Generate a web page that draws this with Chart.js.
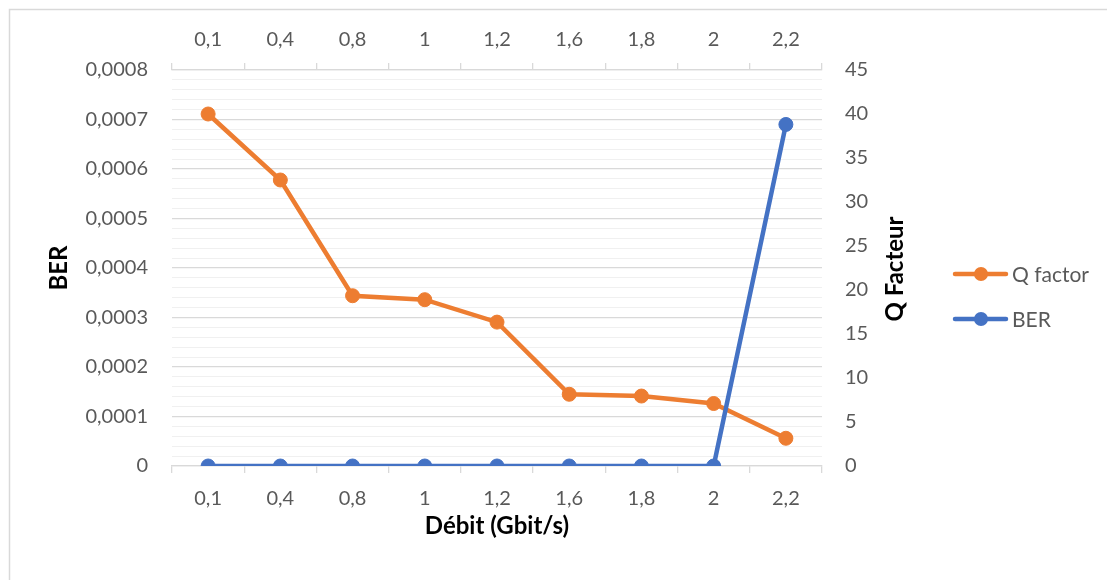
<!DOCTYPE html>
<html>
<head>
<meta charset="utf-8">
<script src="https://cdn.jsdelivr.net/npm/chart.js@4.4.1/dist/chart.umd.min.js"></script>
<style>
  html, body { margin: 0; padding: 0; background: #ffffff; overflow: hidden; }
  #wrap { position: relative; width: 1107px; height: 580px; }
</style>
</head>
<body>
<div id="wrap"><canvas id="c"></canvas></div>
<script>
// Data rate categories (Gbit/s)
const debits = ['0,1', '0,4', '0,8', '1', '1,2', '1,6', '1,8', '2', '2,2'];
// Quality factor per data rate
const qFactor = [40, 32.5, 19.35, 18.9, 16.35, 8.15, 7.95, 7.1, 3.15];
// Bit error rate per data rate
const ber = [0, 0, 0, 0, 0, 0, 0, 0, 0.00069];
// Left axis labels (one every 0,0001)
const berTicks = ['0', '0,0001', '0,0002', '0,0003', '0,0004', '0,0005', '0,0006', '0,0007', '0,0008'];
// Right axis labels
const qTicks = ['0', '5', '10', '15', '20', '25', '30', '35', '40', '45'];

const ORANGE = '#ED7D31';
const BLUE = '#4472C4';
const TEXT = '#595959';
const FONT = 'Lato, "Open Sans", sans-serif';
const TITLE_SIZE = 24;

// Frame, right-hand axis title and the legend
const extras = {
  id: 'extras',
  beforeDraw(chart) {
    const ctx = chart.ctx;
    ctx.save();
    ctx.strokeStyle = '#d9d9d9';
    ctx.lineWidth = 1.5;
    ctx.strokeRect(9.5, 9.5, 1300, 800);
    ctx.restore();
  },
  afterDraw(chart) {
    const ctx = chart.ctx;
    ctx.save();
    // right axis title, reading bottom to top
    ctx.translate(895, 269);
    ctx.rotate(-Math.PI / 2);
    ctx.font = 'bold ' + TITLE_SIZE + 'px ' + FONT;
    ctx.fillStyle = '#000000';
    ctx.textAlign = 'center';
    ctx.textBaseline = 'middle';
    ctx.fillText('Q Facteur', 0, 0);
    ctx.restore();

    // legend: line with marker, then label
    const items = [chart.data.datasets[0], chart.data.datasets[1]];
    const rows = [274, 319];
    items.forEach((ds, i) => {
      const y = rows[i];
      ctx.save();
      ctx.strokeStyle = ds.borderColor;
      ctx.lineWidth = 4.5;
      ctx.lineCap = 'round';
      ctx.beginPath();
      ctx.moveTo(955, y);
      ctx.lineTo(1006, y);
      ctx.stroke();
      ctx.fillStyle = ds.borderColor;
      ctx.beginPath();
      ctx.arc(981, y, 7, 0, Math.PI * 2);
      ctx.fill();
      ctx.fillStyle = TEXT;
      ctx.font = '21px ' + FONT;
      ctx.textAlign = 'left';
      ctx.textBaseline = 'middle';
      ctx.fillText(ds.label, 1012, y + 1);
      ctx.restore();
    });
  }
};

const categoryAxis = (position, fitHeight, labelPad, withTitle) => ({
  type: 'category',
  position: position,
  offset: true,
  afterFit: s => { s.height = fitHeight; },
  grid: {
    display: true,
    offset: true,
    drawOnChartArea: false,
    drawTicks: true,
    tickLength: 7,
    color: '#d9d9d9',
    lineWidth: 1.3
  },
  border: { display: true, color: '#d9d9d9', width: 1.3 },
  ticks: {
    color: TEXT,
    font: { family: FONT, size: 20 },
    padding: labelPad,
    maxRotation: 0,
    autoSkip: false
  },
  title: withTitle ? {
    display: true,
    text: 'Débit (Gbit/s)',
    color: '#000000',
    font: { family: FONT, size: TITLE_SIZE, weight: 'bold', lineHeight: 1.2 },
    padding: { top: 0, bottom: 39 }
  } : { display: false }
});

new Chart(document.getElementById('c'), {
  type: 'line',
  data: {
    labels: debits,
    datasets: [
      {
        label: 'Q factor',
        data: qFactor,
        xAxisID: 'x2',
        yAxisID: 'y2',
        borderColor: ORANGE,
        backgroundColor: ORANGE,
        borderWidth: 4.5,
        pointRadius: 7,
        pointHoverRadius: 7,
        pointBorderWidth: 1,
        pointBackgroundColor: ORANGE,
        pointBorderColor: ORANGE,
        tension: 0,
        order: 1
      },
      {
        label: 'BER',
        data: ber,
        xAxisID: 'x',
        yAxisID: 'y',
        borderColor: BLUE,
        backgroundColor: BLUE,
        borderWidth: 4.5,
        pointRadius: 7,
        pointHoverRadius: 7,
        pointBorderWidth: 1,
        pointBackgroundColor: BLUE,
        pointBorderColor: BLUE,
        tension: 0,
        order: 0
      }
    ]
  },
  options: {
    responsive: true,
    maintainAspectRatio: false,
    animation: false,
    events: [],
    layout: { padding: { left: 0, top: 0, bottom: 0, right: 185 } },
    plugins: {
      legend: { display: false },
      tooltip: { enabled: false }
    },
    scales: {
      x: categoryAxis('bottom', 114, 14, true),
      x2: categoryAxis('top', 70, 11, false),
      y: {
        type: 'linear',
        position: 'left',
        min: 0,
        max: 0.0008,
        afterFit: s => { s.width = 172; },
        ticks: {
          stepSize: 0.00002,
          autoSkip: false,
          color: TEXT,
          font: { family: FONT, size: 20 },
          padding: 24,
          callback: (v, i) => (i % 5 === 0 ? berTicks[i / 5] : '')
        },
        grid: {
          drawTicks: false,
          color: c => (c.index % 5 === 0 ? '#d9d9d9' : '#f0f0f0'),
          lineWidth: c => (c.index % 5 === 0 ? 1.3 : 1)
        },
        border: { display: false },
        title: {
          display: true,
          text: 'BER',
          color: '#000000',
          font: { family: FONT, size: TITLE_SIZE, weight: 'bold', lineHeight: 1.2 },
          padding: { top: 45, bottom: 0 }
        }
      },
      y2: {
        type: 'linear',
        position: 'right',
        min: 0,
        max: 45,
        afterFit: s => { s.width = 100; },
        ticks: {
          stepSize: 5,
          autoSkip: false,
          color: TEXT,
          font: { family: FONT, size: 20 },
          padding: 23,
          callback: (v, i) => qTicks[i]
        },
        grid: { drawOnChartArea: false, drawTicks: false },
        border: { display: false },
        title: { display: false }
      }
    }
  },
  plugins: [extras]
});
</script>
</body>
</html>
